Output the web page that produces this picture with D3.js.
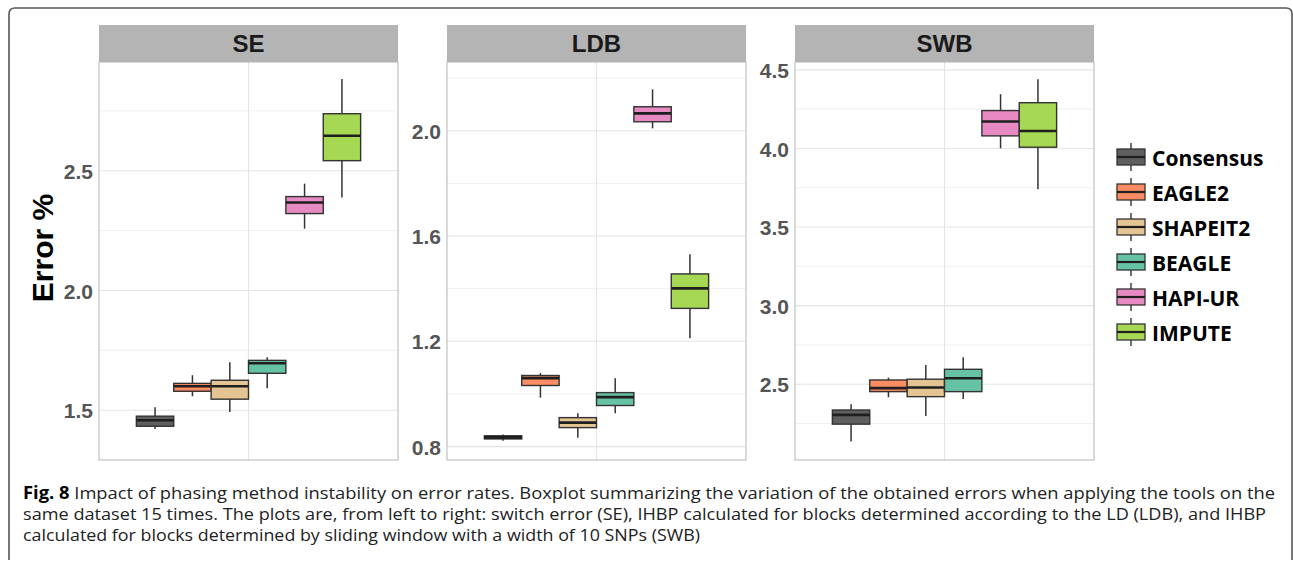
<!DOCTYPE html>
<html><head><meta charset="utf-8">
<script src="https://cdn.jsdelivr.net/npm/d3@7"></script>
<style>html,body{margin:0;padding:0;background:#fff;}svg{display:block;}</style>
</head><body>
<svg id="chart" width="1293" height="564"></svg>
<script>
// ---------------- data ----------------
const methods = ["Consensus", "EAGLE2", "SHAPEIT2", "BEAGLE", "HAPI-UR", "IMPUTE"];
const colors = ["#5f5f5f", "#fc8d62", "#e5c494", "#66c2a5", "#e78ac3", "#a6d854"];
const panelNames = ["SE", "LDB", "SWB"];
// [lower whisker, Q1, median, Q3, upper whisker] per method
const seStats = [
  [1.421, 1.433, 1.458, 1.475, 1.512],
  [1.558, 1.579, 1.600, 1.612, 1.646],
  [1.492, 1.546, 1.600, 1.625, 1.700],
  [1.592, 1.654, 1.696, 1.708, 1.721],
  [2.258, 2.321, 2.367, 2.392, 2.446],
  [2.388, 2.542, 2.646, 2.738, 2.883]
];
const ldbStats = [
  [0.822, 0.829, 0.835, 0.841, 0.846],
  [0.986, 1.032, 1.060, 1.070, 1.079],
  [0.834, 0.872, 0.891, 0.910, 0.927],
  [0.927, 0.956, 0.988, 1.005, 1.060],
  [2.009, 2.034, 2.066, 2.091, 2.157],
  [1.212, 1.325, 1.401, 1.456, 1.531]
];
const swbStats = [
  [2.135, 2.246, 2.305, 2.336, 2.373],
  [2.417, 2.453, 2.475, 2.527, 2.542],
  [2.298, 2.421, 2.479, 2.532, 2.623],
  [2.406, 2.453, 2.538, 2.595, 2.672],
  [4.001, 4.080, 4.171, 4.241, 4.345],
  [3.740, 4.008, 4.111, 4.291, 4.440]
];
const seTicks = [1.5, 2.0, 2.5];
const ldbTicks = [0.8, 1.2, 1.6, 2.0];
const swbTicks = [2.5, 3.0, 3.5, 4.0, 4.5];
const seDomain = [1.292, 2.954];
const ldbDomain = [0.749, 2.261];
const swbDomain = [2.018, 4.550];
const yTitle = "Error %";
const captionBold = "Fig. 8";
const captionLines = [
  " Impact of phasing method instability on error rates. Boxplot summarizing the variation of the obtained errors when applying the tools on the",
  "same dataset 15 times. The plots are, from left to right: switch error (SE), IHBP calculated for blocks determined according to the LD (LDB), and IHBP",
  "calculated for blocks determined by sliding window with a width of 10 SNPs (SWB)"
];

// ---------------- layout ----------------
const svg = d3.select("#chart");
const panelLefts = [99, 447, 795];
const panelW = 299;
const stripTop = 25, stripBot = 62, plotBot = 460;
const panels = [
  {name: panelNames[0], stats: seStats, ticks: seTicks, domain: seDomain, fmt: d3.format(".1f")},
  {name: panelNames[1], stats: ldbStats, ticks: ldbTicks, domain: ldbDomain, fmt: d3.format(".1f")},
  {name: panelNames[2], stats: swbStats, ticks: swbTicks, domain: swbDomain, fmt: d3.format(".1f")}
];

// outer frame
svg.append("path")
  .attr("d", "M9,560 V14 Q9,8 15,8 H1286 Q1292,8 1292,14 V560")
  .attr("fill", "none").attr("stroke", "#555").attr("stroke-width", 1.6);

panels.forEach((p, i) => {
  const x0 = panelLefts[i];
  const g = svg.append("g");
  const y = d3.scaleLinear().domain(p.domain).range([plotBot, stripBot]);
  const xc = x0 + panelW / 2;
  const x = d3.scaleBand().domain(methods).range([xc - panelW * 0.375, xc + panelW * 0.375]).padding(0);

  // minor grid
  const minor = [];
  const step = p.ticks[1] - p.ticks[0];
  for (let k = 0; k <= p.ticks.length; k++) {
    const v = p.ticks[0] - step / 2 + k * step;
    if (v > p.domain[0] && v < p.domain[1]) minor.push(v);
  }
  g.selectAll(".minor").data(minor).enter().append("line")
    .attr("x1", x0).attr("x2", x0 + panelW)
    .attr("y1", d => y(d)).attr("y2", d => y(d))
    .attr("stroke", "#f0f0f0").attr("stroke-width", 1);
  // major grid
  g.selectAll(".major").data(p.ticks).enter().append("line")
    .attr("x1", x0).attr("x2", x0 + panelW)
    .attr("y1", d => y(d)).attr("y2", d => y(d))
    .attr("stroke", "#e4e4e4").attr("stroke-width", 1.1);
  g.append("line").attr("x1", xc).attr("x2", xc).attr("y1", stripBot).attr("y2", plotBot)
    .attr("stroke", "#e4e4e4").attr("stroke-width", 1.1);

  // axis labels via d3 axis
  const ax = g.append("g").attr("transform", `translate(${x0 - 6},0)`)
    .call(d3.axisLeft(y).tickValues(p.ticks).tickFormat(p.fmt).tickSize(0).tickPadding(0));
  ax.select(".domain").remove();
  ax.selectAll("text")
    .attr("font-family", "Liberation Sans, Arial, sans-serif")
    .attr("font-weight", "bold").attr("font-size", 21).attr("fill", "#555")
    .attr("dy", "0.36em");

  // boxes
  const b = g.selectAll(".box").data(p.stats).enter().append("g");
  b.append("line")
    .attr("x1", (d, j) => x(methods[j]) + x.bandwidth() / 2)
    .attr("x2", (d, j) => x(methods[j]) + x.bandwidth() / 2)
    .attr("y1", d => y(d[0])).attr("y2", d => y(d[4]))
    .attr("stroke", "#333").attr("stroke-width", 1.5);
  b.append("rect")
    .attr("x", (d, j) => x(methods[j]))
    .attr("width", x.bandwidth())
    .attr("y", d => y(d[3]))
    .attr("height", d => Math.max(1, y(d[1]) - y(d[3])))
    .attr("fill", (d, j) => colors[j])
    .attr("stroke", "#333").attr("stroke-width", 1.4);
  b.append("line")
    .attr("x1", (d, j) => x(methods[j]))
    .attr("x2", (d, j) => x(methods[j]) + x.bandwidth())
    .attr("y1", d => y(d[2])).attr("y2", d => y(d[2]))
    .attr("stroke", "#1f1f1f").attr("stroke-width", 2.6);

  // panel border
  g.append("rect").attr("x", x0).attr("y", stripBot).attr("width", panelW).attr("height", plotBot - stripBot)
    .attr("fill", "none").attr("stroke", "#c2c2c2").attr("stroke-width", 1.2);
  // strip
  g.append("rect").attr("x", x0).attr("y", stripTop).attr("width", panelW).attr("height", stripBot - stripTop)
    .attr("fill", "#b4b4b4");
  g.append("text").attr("x", xc).attr("y", (stripTop + stripBot) / 2).attr("dy", "0.36em")
    .attr("text-anchor", "middle")
    .attr("font-family", "Liberation Sans, Arial, sans-serif").attr("font-weight", "bold")
    .attr("font-size", 24).attr("fill", "#1a1a1a").text(p.name);
});

// y title
svg.append("text").attr("transform", "translate(53,248) rotate(-90)")
  .attr("text-anchor", "middle")
  .attr("font-family", "Liberation Sans, Arial, sans-serif").attr("font-weight", "bold")
  .attr("font-size", 30).attr("fill", "#000").text(yTitle);

// legend
const legY = d3.scalePoint().domain(methods).range([157, 332]);
const lg = svg.append("g");
const items = lg.selectAll(".li").data(methods).enter().append("g")
  .attr("transform", d => `translate(1117,${legY(d)})`);
items.append("line").attr("x1", 14).attr("x2", 14).attr("y1", -14).attr("y2", 14)
  .attr("stroke", "#333").attr("stroke-width", 1.4);
items.append("rect").attr("x", 0).attr("y", -8).attr("width", 28).attr("height", 16)
  .attr("fill", (d, j) => colors[j]).attr("stroke", "#333").attr("stroke-width", 1.3);
items.append("line").attr("x1", 0).attr("x2", 28).attr("y1", 0).attr("y2", 0)
  .attr("stroke", "#1f1f1f").attr("stroke-width", 2.2);
items.append("text").attr("x", 35).attr("y", 1).attr("dy", "0.36em")
  .attr("font-family", "Open Sans, sans-serif").attr("font-weight", "bold")
  .attr("font-size", 21).attr("fill", "#000").text(d => d);

// caption
const capBase = [499, 520, 541];
const capRight = [1275, 1266, 700];
const cap = svg.append("g").attr("font-family", "Open Sans, sans-serif").attr("font-size", 17).attr("fill", "#222");
captionLines.forEach((t, i) => {
  const tx = cap.append("text").attr("x", 23).attr("y", capBase[i])
    .attr("textLength", capRight[i] - 23).attr("lengthAdjust", "spacingAndGlyphs");
  if (i === 0) tx.append("tspan").attr("font-weight", "bold").attr("fill", "#000").text(captionBold);
  tx.append("tspan").text(t);
});
</script>
</body></html>
